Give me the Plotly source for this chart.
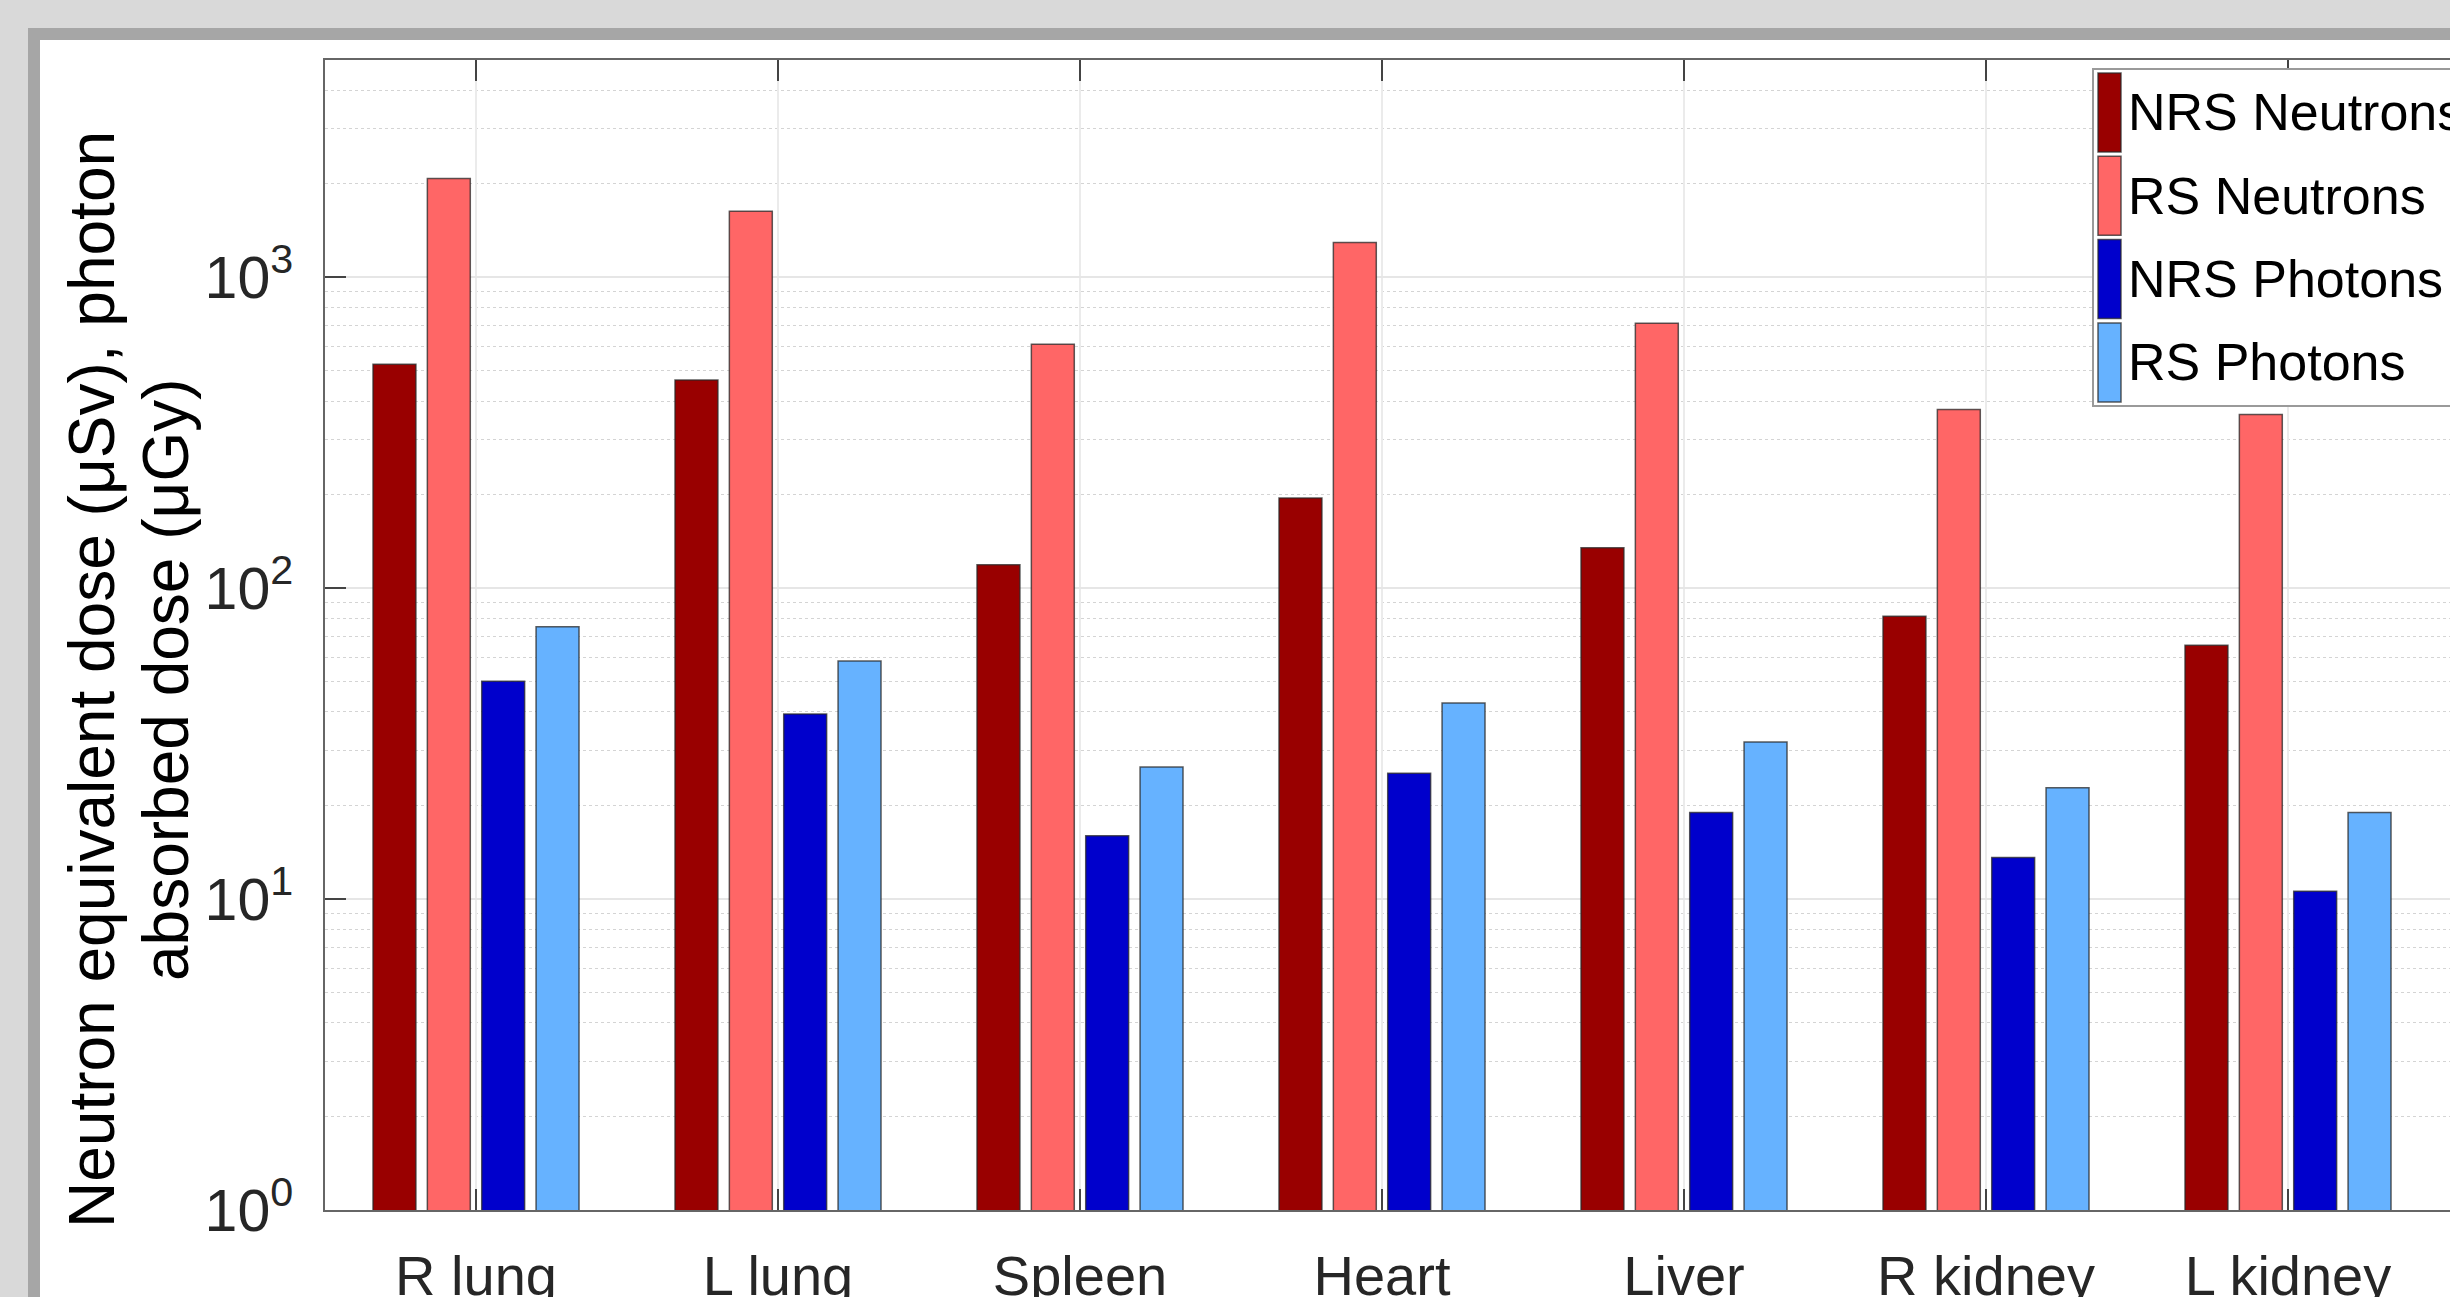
import math
import plotly.graph_objects as go

# Organ dose data (log scale)
organs = ["R lung", "L lung", "Spleen", "Heart", "Liver", "R kidney", "L kidney"]
nrs_neutrons = [525, 467, 119, 195, 135, 81.3, 65.5]
rs_neutrons = [2080, 1630, 609, 1295, 711, 376, 362]
nrs_photons = [50.2, 39.4, 16.0, 25.4, 19.0, 13.6, 10.6]
rs_photons = [75.1, 58.3, 26.6, 42.7, 32.0, 22.8, 19.0]

series_names = ["NRS Neutrons", "RS Neutrons", "NRS Photons", "RS Photons"]
series_values = [nrs_neutrons, rs_neutrons, nrs_photons, rs_photons]
series_colors = ["#990000", "#ff6666", "#0000cc", "#66b2ff"]

y_tickvals = [1, 10, 100, 1000]
y_ticktext = ["10<sup>0</sup>", "10<sup>1</sup>", "10<sup>2</sup>", "10<sup>3</sup>"]

W, H = 2450, 1297
ML, MR, MT, MB = 325, 0, 60, 87
PW, PH = W - ML - MR, H - MT - MB


def px(x):
    return (x - ML) / PW


def py(y):
    return (H - MB - y) / PH


fig = go.Figure()
for name, vals, col in zip(series_names, series_values, series_colors):
    fig.add_trace(go.Bar(
        x=organs, y=vals, name=name, showlegend=False,
        marker=dict(color=col, line=dict(color="rgba(40,40,40,0.75)", width=1.5)),
    ))

text_font = "Liberation Sans, Arial, Helvetica, sans-serif"
xtick_font = dict(family=text_font, size=56, color="#262626")
ytick_font = dict(family=text_font, size=59, color="#262626")

shapes = [
    # window frame
    dict(type="rect", xref="paper", yref="paper", x0=px(28), x1=px(2600), y0=py(28), y1=py(1500),
         fillcolor="#a6a6a6", line=dict(width=0), layer="below"),
    dict(type="rect", xref="paper", yref="paper", x0=px(40), x1=px(2600), y0=py(40), y1=py(1500),
         fillcolor="#ffffff", line=dict(width=0), layer="below"),
    # legend box
    dict(type="rect", xref="paper", yref="paper", x0=px(2093), x1=px(2600), y0=py(69), y1=py(406),
         fillcolor="#ffffff", line=dict(color="#9a9a9a", width=2), layer="above"),
]
annotations = []
leg_top = 73
leg_pitch = 83.3
for i, (name, col) in enumerate(zip(series_names, series_colors)):
    y0 = leg_top + i * leg_pitch
    y1 = y0 + 79
    shapes.append(dict(type="rect", xref="paper", yref="paper", x0=px(2098), x1=px(2121),
                       y0=py(y0), y1=py(y1), fillcolor=col,
                       line=dict(color="rgba(40,40,40,0.75)", width=1.5), layer="above"))
    annotations.append(dict(text=name, xref="paper", yref="paper", x=px(2126), y=py((y0 + y1) / 2),
                            xanchor="left", yanchor="middle", showarrow=False,
                            font=dict(family=text_font, size=52, color="#000000")))

# y-axis title (two lines)
for line_text, cx in [("Neutron equivalent dose (μSv), photon", 92),
                      ("absorbed dose (μGy)", 166)]:
    annotations.append(dict(text=line_text, xref="paper", yref="paper", x=px(cx), y=py(680),
                            xanchor="center", yanchor="middle", textangle=-90, showarrow=False,
                            font=dict(family=text_font, size=64, color="#000000")))

fig.update_layout(
    width=W, height=H, autosize=False,
    margin=dict(l=ML, r=MR, t=MT, b=MB, pad=0, autoexpand=False),
    paper_bgcolor="#d9d9d9", plot_bgcolor="#ffffff",
    barmode="group", bargap=0.28, bargroupgap=0.21,
    shapes=shapes, annotations=annotations,
    xaxis=dict(
        type="category", range=[-0.5, PW / 302 - 0.5], automargin=False,
        showline=True, linecolor="#666666", linewidth=2, mirror="ticks",
        ticks="inside", ticklen=21, tickwidth=1.5, tickcolor="#444444",
        showgrid=True, gridcolor="#ebebeb", gridwidth=1.5,
        tickfont=xtick_font, ticklabelstandoff=16,
    ),
    yaxis=dict(
        type="log", range=[0, math.log10(5000)], automargin=False,
        tickmode="array", tickvals=y_tickvals, ticktext=y_ticktext,
        showline=True, linecolor="#666666", linewidth=2,
        ticks="inside", ticklen=21, tickwidth=1.5, tickcolor="#444444",
        showgrid=True, gridcolor="#e6e6e6", gridwidth=1.5,
        minor=dict(tickmode="linear", dtick="D1", showgrid=True,
                   gridcolor="#d4d4d4", griddash="dot", gridwidth=1),
        tickfont=ytick_font, ticklabelstandoff=18,
    ),
)

fig.write_html("out.html")
